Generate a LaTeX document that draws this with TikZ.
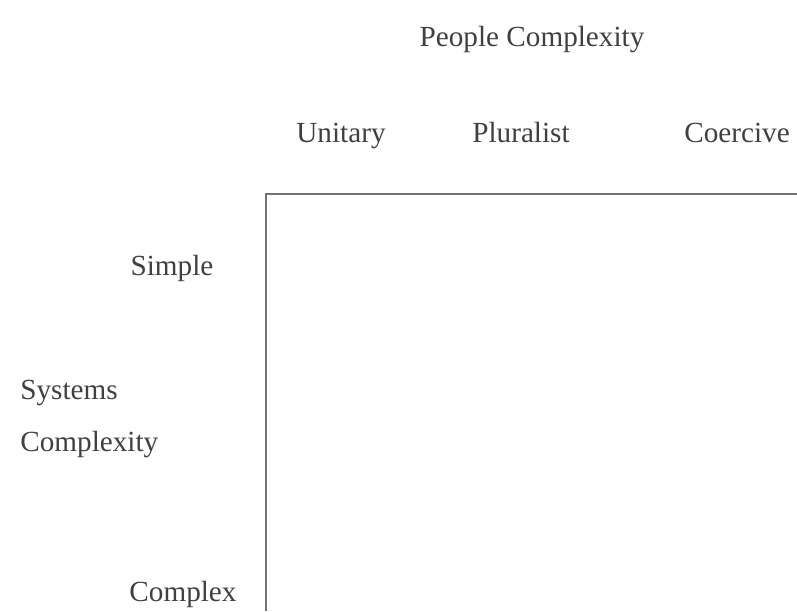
\documentclass[tikz,border=0pt]{standalone}
\usepackage{fontspec}
\setmainfont{Liberation Serif}
\usetikzlibrary{positioning}

\begin{document}
\begin{tikzpicture}[x=0.5pt, y=-0.5pt,
    lbl/.style={text=black!75, font=\fontsize{14.6}{17}\selectfont, inner sep=0pt, anchor=base},
    axis/.style={draw=black!55, line width=1pt}
]
    \useasboundingbox (0,0) rectangle (797,611);
    % Header
    \node [lbl] (people) at (532,46) {People Complexity};
    \node [lbl] (unitary) at (341,142) {Unitary};
    \node [lbl] (pluralist) at (521,142) {Pluralist};
    \node [lbl] (coercive) at (737,142) {Coercive};

    % Side
    \node [lbl] (simple) at (172,275) {Simple};
    \node [lbl, anchor=base west] (systems) at (20,399) {Systems};
    \node [lbl, anchor=base west] (complexity) at (20,451) {Complexity};
    \node [lbl] (complex) at (183,601) {Complex};

    % Axes
    \coordinate (corner) at (266,194);
    \coordinate (bottom) at (266,611);
    \coordinate (right) at (797,194);
    \draw [axis] (bottom) -- (corner) -- (right);
\end{tikzpicture}
\end{document}
